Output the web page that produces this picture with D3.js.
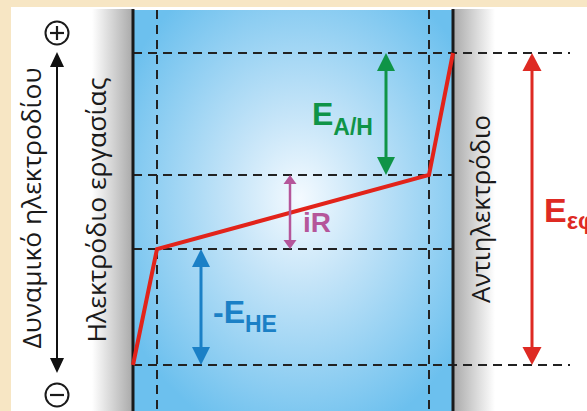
<!DOCTYPE html>
<html><head><meta charset="utf-8">
<script src="https://cdn.jsdelivr.net/npm/d3@7"></script>
<style>html,body{margin:0;padding:0;background:#f7e6c4;}svg{display:block}</style>
</head><body>
<svg id="chart" width="587" height="411"></svg>
<script>
// Potential profile across the cell (arbitrary units)
const positions = [0, 24, 296, 320];          // distance from working electrode
const potentials = [0, 11.6, 19.0, 31.2];     // electrode potential
const levelLabels = ["-E_HE", "iR", "E_A/H", "E_εφ"];
const axisTitle = "Δυναμικό ηλεκτροδίου";
const workingLabel = "Ηλεκτρόδιο εργασίας";
const counterLabel = "Αντιηλεκτρόδιο";

const svg = d3.select("#chart");
const x = d3.scaleLinear().domain([0, 320]).range([133, 453]);
const y = d3.scaleLinear().domain([0, 31.2]).range([365, 53]);

const defs = svg.append("defs");
const rg = defs.append("radialGradient").attr("id","bluebg").attr("cx","0.52").attr("cy","0.47").attr("r","0.62");
rg.append("stop").attr("offset","0").attr("stop-color","#f4faff");
rg.append("stop").attr("offset","0.35").attr("stop-color","#c4e4f8");
rg.append("stop").attr("offset","1").attr("stop-color","#6cc0ee");
const gl = defs.append("linearGradient").attr("id","grayL").attr("x1","0").attr("x2","1");
gl.append("stop").attr("offset","0").attr("stop-color","#ffffff");
gl.append("stop").attr("offset","1").attr("stop-color","#a9a9a9");
const gr = defs.append("linearGradient").attr("id","grayR").attr("x1","0").attr("x2","1");
gr.append("stop").attr("offset","0").attr("stop-color","#a9a9a9");
gr.append("stop").attr("offset","1").attr("stop-color","#ffffff");

// background panel
svg.append("rect").attr("x",0).attr("y",0).attr("width",587).attr("height",411).attr("fill","#f7e6c4");
svg.append("rect").attr("x",11).attr("y",7).attr("width",576).attr("height",404).attr("fill","#ffffff");

// electrodes and electrolyte
svg.append("rect").attr("x",92).attr("y",9).attr("width",x(0)-92).attr("height",402).attr("fill","url(#grayL)");
svg.append("rect").attr("x",x(320)).attr("y",9).attr("width",495-x(320)).attr("height",402).attr("fill","url(#grayR)");
svg.append("rect").attr("x",x(0)).attr("y",10).attr("width",x(320)-x(0)).attr("height",401).attr("fill","url(#bluebg)");

// dashed guide lines
const dash = "9,6";
const gd = svg.append("g").attr("stroke","#222").attr("stroke-width",2).attr("stroke-dasharray",dash).attr("fill","none");
[positions[1], positions[2]].forEach(p => {
  gd.append("line").attr("x1",x(p)).attr("x2",x(p)).attr("y1",10).attr("y2",411);
});
potentials.forEach((v,i) => {
  const x2 = (i===0 || i===3) ? 570 : x(320);
  gd.append("line").attr("x1",x(0)).attr("x2",x2).attr("y1",y(v)).attr("y2",y(v));
});

// electrode boundaries
[0,320].forEach(p => svg.append("line").attr("x1",x(p)).attr("x2",x(p)).attr("y1",9).attr("y2",411)
  .attr("stroke","#1a1a1a").attr("stroke-width",3));

// potential profile
const line = d3.line().x((d,i)=>x(positions[i])).y(d=>y(d));
svg.append("path").attr("d", line(potentials)).attr("fill","none").attr("stroke","#e2231a")
  .attr("stroke-width",4).attr("stroke-linejoin","miter");

// double arrows
function dArrow(xp, y1, y2, color, sw, hw, hl) {
  const g = svg.append("g");
  g.append("line").attr("x1",xp).attr("x2",xp).attr("y1",y1+hl-1).attr("y2",y2-hl+1).attr("stroke",color).attr("stroke-width",sw);
  g.append("path").attr("d",`M${xp},${y1}L${xp-hw/2},${y1+hl}L${xp+hw/2},${y1+hl}Z`).attr("fill",color);
  g.append("path").attr("d",`M${xp},${y2}L${xp-hw/2},${y2-hl}L${xp+hw/2},${y2-hl}Z`).attr("fill",color);
}
dArrow(386, y(potentials[3]), y(potentials[2]), "#0f9447", 3, 18, 18);
dArrow(290, y(potentials[2]), y(potentials[1]), "#b5569a", 2.5, 13, 9);
dArrow(201, y(potentials[1]), y(potentials[0]), "#1b80c6", 3, 18, 18);
dArrow(532, y(potentials[3]), y(potentials[0]), "#de2a23", 3, 19, 18);
dArrow(57, 52, 373, "#111", 2, 14, 15);

// labels with subscripts
function subLabel(xp, yp, pre, main, sub, color, fs, sfs, sdy) {
  const t = svg.append("text").attr("x",xp).attr("y",yp).attr("fill",color)
    .attr("font-family","'Liberation Sans', Arial, sans-serif").attr("font-weight","bold").attr("font-size",fs);
  t.append("tspan").text(pre + main);
  if (sub) t.append("tspan").attr("font-size",sfs).attr("dy",sdy).text(sub);
}
subLabel(312, 125, "", "E", "A/H", "#0f9447", 32, 23, 10);
subLabel(303, 232, "", "iR", "", "#b5569a", 28, 0, 0);
subLabel(213, 323, "-", "E", "HE", "#1b80c6", 32, 23, 9);
subLabel(544, 222, "", "E", "εφ", "#de2a23", 34, 24, 7);

// rotated texts
function vText(xp, yc, s, fs, len) {
  svg.append("text").attr("transform",`translate(${xp},${yc}) rotate(-90)`).attr("text-anchor","middle")
    .attr("font-family","'Open Sans', 'Noto Sans', sans-serif").attr("font-size",fs).attr("fill","#1a1a1a")
    .attr("textLength",len).attr("lengthAdjust","spacingAndGlyphs").text(s);
}
vText(41, 208, axisTitle, 26, 281);
vText(106, 210, workingLabel, 26, 265);
vText(490, 209, counterLabel, 26, 188);

// plus / minus symbols
[[33,"+"],[395,"-"]].forEach(([cy,s]) => {
  svg.append("circle").attr("cx",57).attr("cy",cy).attr("r",11.5).attr("fill","none").attr("stroke","#1a1a1a").attr("stroke-width",2);
  svg.append("line").attr("x1",50).attr("x2",64).attr("y1",cy).attr("y2",cy).attr("stroke","#1a1a1a").attr("stroke-width",2.2);
  if (s==="+") svg.append("line").attr("x1",57).attr("x2",57).attr("y1",cy-7).attr("y2",cy+7).attr("stroke","#1a1a1a").attr("stroke-width",2.2);
});
</script>
</body></html>
